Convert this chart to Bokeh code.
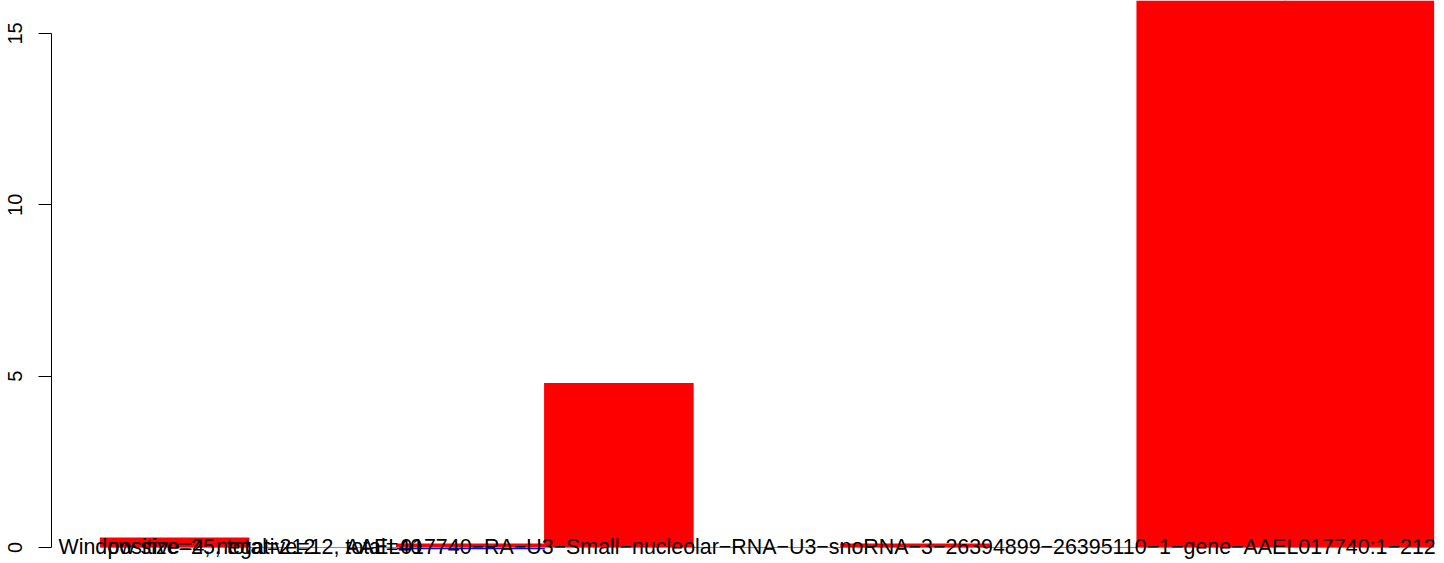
from bokeh.plotting import figure
from bokeh.models import Range1d, FixedTicker
from bokeh.core.properties import value
from bokeh.embed import file_html
from bokeh.resources import INLINE

# windows along the gene (window size 25, length 212 -> 9 windows)
windows = [1, 2, 3, 4, 5, 6, 7, 8, 9]
positive_counts = [0.29, 0.0, 0.12, 4.8, 0.0, 0.12, 0.0, 17.0, 17.0]
negative_counts = [0.0, 0.0, -0.05, 0.0, 0.0, 0.0, 0.0, 0.0, 0.0]
y_ticks = [0, 5, 10, 15]

label_window = "Window size=25, total=212"
label_counts = "positive=4, negative=12, total=40"
label_gene = "AAEL017740\u2212RA\u2212U3\u2212Small\u2212nucleolar\u2212RNA\u2212U3\u2212snoRNA\u22123\u221226394899\u221226395110\u22121\u2212gene\u2212AAEL017740:1\u2212212"

FONT = "Liberation Sans"

lefts = [w - 1 for w in windows]
rights = [w for w in windows]
centers = [w - 0.5 for w in windows]

p = figure(width=1444, height=563, output_backend="svg", toolbar_location=None,
           x_range=Range1d(-0.331, 9.075), y_range=Range1d(-0.467, 15.96),
           x_axis_type=None, min_border_left=51, min_border_right=0,
           min_border_top=0, min_border_bottom=0)
p.grid.visible = False
p.outline_line_color = None
p.background_fill_color = "white"

p.vbar(x=centers, top=positive_counts, bottom=0, width=1.01,
       fill_color="#FF0000", line_color=None)
p.vbar(x=centers, top=negative_counts, bottom=0, width=1.0,
       fill_color="#0000FF", line_color=None)

# baseline
p.segment(x0=[min(lefts)], x1=[max(rights)], y0=[0], y1=[0],
          line_color="#8c8c8c", line_width=1)

# labels along the baseline
p.text(x=[-0.284], y=[0], text=[label_window], text_font=value(FONT),
       text_font_size="21.4px", text_baseline="alphabetic", text_align="left",
       text_color="black")
p.text(x=[0.047], y=[0], text=[label_counts], text_font=value(FONT),
       text_font_size="21.4px", text_baseline="alphabetic", text_align="left",
       text_color="black")
p.text(x=[1.654], y=[0], text=[label_gene], text_font=value(FONT),
       text_font_size="21.4px", text_baseline="alphabetic", text_align="left",
       text_color="black")

ax = p.yaxis[0]
ax.ticker = FixedTicker(ticks=y_ticks)
ax.bounds = (0, 15)
ax.major_tick_out = 13
ax.major_tick_in = 0
ax.minor_tick_line_color = None
ax.axis_line_color = "black"
ax.major_tick_line_color = "black"
ax.major_label_orientation = "vertical"
ax.major_label_text_font = FONT
ax.major_label_text_font_size = "20px"
ax.major_label_text_color = "black"
ax.major_label_standoff = 16

open("out.html", "w").write(file_html(p, INLINE))
